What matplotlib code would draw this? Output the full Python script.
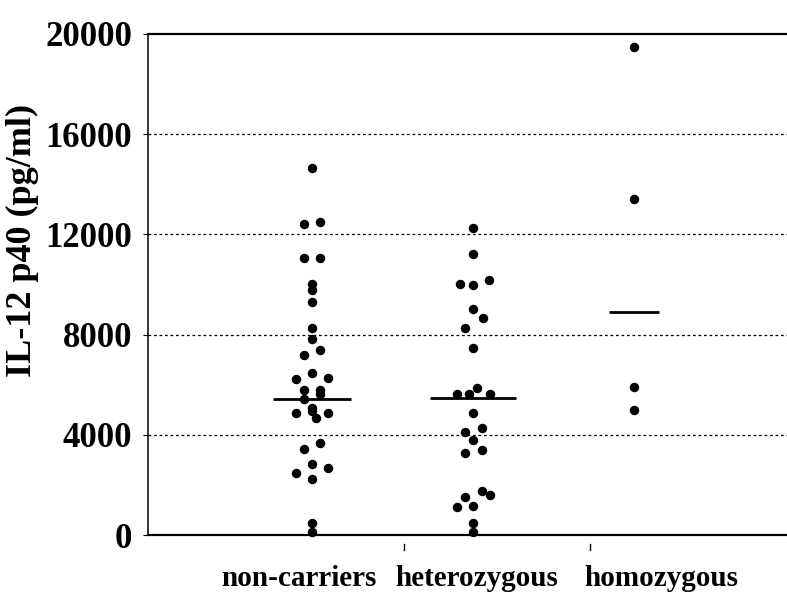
import matplotlib
matplotlib.use("Agg")
import matplotlib.pyplot as plt
import matplotlib.transforms as mtransforms

# groups on the x axis
groups = ["non-carriers", "heterozygous", "homozygous"]

# IL-12 p40 values (pg/ml), with the sideways spread of each dot
noncarriers = [14660, 12420, 12480, 11070, 11070, 10020, 9780, 9290, 8250, 7840,
               7380, 7190, 6480, 6215, 6255, 5790, 5790, 5615, 5420, 5080,
               4960, 4880, 4880, 4680, 3690, 3420, 2830, 2460, 2690, 2235, 470, 110]
noncarriers_dx = [0, -0.05, 0.05, -0.05, 0.05, 0, 0, 0, 0, 0,
                  0.05, -0.05, 0, -0.1, 0.1, -0.05, 0.05, 0.05, -0.05, 0,
                  0, -0.1, 0.1, 0.025, 0.05, -0.05, 0, -0.1, 0.1, 0, 0, 0]

heterozygous = [12240, 11210, 10020, 9970, 10180, 9010, 8675, 8250, 7480, 5880,
                5630, 5630, 5630, 4880, 4280, 4120, 3790, 3390, 3260, 1770,
                1600, 1530, 1130, 1170, 490, 130]
heterozygous_dx = [0, 0, -0.08, 0, 0.1, 0, 0.06, -0.05, 0, 0.025,
                   -0.1, -0.025, 0.105, 0, 0.055, -0.05, 0, 0.055, -0.05, 0.055,
                   0.105, -0.05, -0.1, 0, 0, 0]

homozygous = [19490, 13410, 5900, 4990]
homozygous_dx = [0, 0, 0, 0]

medians = [5420, 5450, 8890]
median_halfwidth = [0.245, 0.267, 0.155]

yticks = [0, 4000, 8000, 12000, 16000, 20000]
grid_levels = [4000, 8000, 12000, 16000]

series = [noncarriers, heterozygous, homozygous]
offsets = [noncarriers_dx, heterozygous_dx, homozygous_dx]

font = "Liberation Serif"

fig = plt.figure(figsize=(7.87, 5.94), dpi=100)
ax = fig.add_axes([148 / 787, 59 / 594, 639 / 787, 501 / 594])

for i, (vals, dx) in enumerate(zip(series, offsets)):
    xs = [i + 1 + d for d in dx]
    ax.plot(xs, vals, "o", color="black", markersize=5.8, clip_on=False, zorder=3)
    ax.plot([i + 1 - median_halfwidth[i], i + 1 + median_halfwidth[i]],
            [medians[i], medians[i]], color="black", lw=2.0, solid_capstyle="butt", zorder=3)

for g in grid_levels:
    ax.axhline(g, color="black", lw=0.9, linestyle=(0, (2.2, 2.2)), zorder=1)

ax.set_xlim(-0.0186, 3.95)
ax.set_ylim(0, 20000)

ax.spines["right"].set_visible(False)
ax.spines["top"].set_linewidth(1.6)
ax.spines["bottom"].set_linewidth(1.6)
ax.spines["left"].set_linewidth(1.1)

ax.set_yticks(yticks)
ax.set_yticklabels([str(t) for t in yticks], fontfamily=font, fontweight="bold")
ax.tick_params(axis="y", direction="out", length=3.5, width=0.8, pad=8, labelsize=25)
ax.set_xticks([])

# category labels sit a little off the dot columns, as in the original
trans = mtransforms.blended_transform_factory(ax.transData, ax.transAxes)
label_x = [0.919, 2.025, 3.168]
for x, name in zip(label_x, groups):
    ax.text(x, -0.086, name, transform=trans, ha="center", va="center",
            fontsize=21, fontweight="bold", fontfamily=font)

# two small stray ticks below the axis
for x in [1.571, 2.727]:
    ax.plot([x, x], [-0.018, -0.029], transform=trans, color="black", lw=1.0, clip_on=False)

fig.text(22 / 787, 1 - 240 / 594, "IL-12 p40 (pg/ml)", rotation=90, ha="center", va="center",
         fontsize=26, fontweight="bold", fontfamily=font)

fig.savefig("out.png", dpi=100)
